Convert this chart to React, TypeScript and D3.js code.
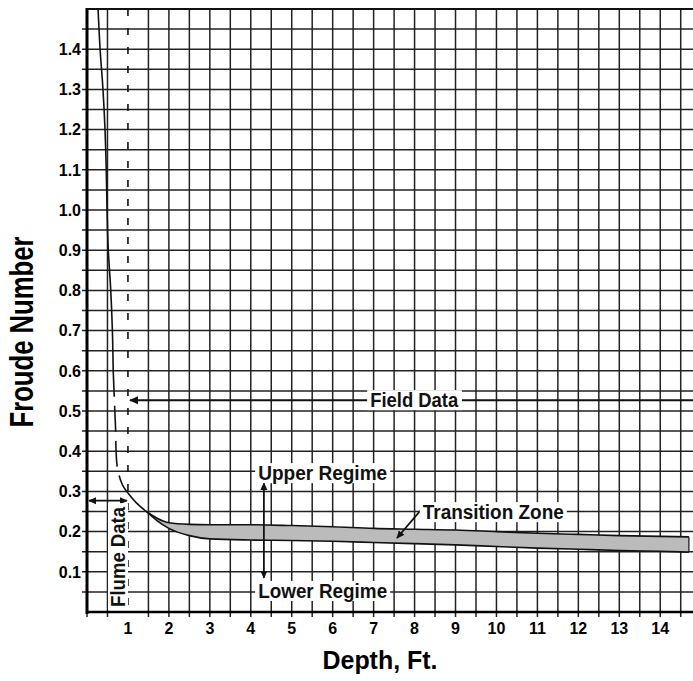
import React, { useEffect, useRef } from 'react';
import * as d3 from 'd3';

// tick labels
const xTickLabels = [1, 2, 3, 4, 5, 6, 7, 8, 9, 10, 11, 12, 13, 14];
const yTickLabels = [0.1, 0.2, 0.3, 0.4, 0.5, 0.6, 0.7, 0.8, 0.9, 1.0, 1.1, 1.2, 1.3, 1.4];

// steep flume branch (solid)
const steepDepth = [0.27, 0.32, 0.39, 0.44, 0.47, 0.49, 0.52, 0.58, 0.62, 0.64];
const steepFroude = [1.5, 1.4, 1.3, 1.2, 1.1, 1.0, 0.9, 0.8, 0.7, 0.6];

// dashed part down to depth 1
const dashedDepth = [0.64, 0.66, 0.68, 0.7, 0.71, 0.74, 0.82, 0.9, 1.0];
const dashedFroude = [0.6, 0.55, 0.5, 0.45, 0.4, 0.36, 0.328, 0.31, 0.296];

// single curve before the split
const mainDepth = [1.0, 1.2, 1.45];
const mainFroude = [0.296, 0.272, 0.25];

// transition zone band
const bandDepth = [1.45, 1.7, 2.0, 2.5, 3, 4, 5, 6, 7, 8, 9, 10, 11, 12, 13, 14, 14.7];
const upperFroude = [0.25, 0.234, 0.222, 0.218, 0.217, 0.217, 0.215, 0.212, 0.208, 0.206, 0.204, 0.2, 0.196, 0.193, 0.19, 0.188, 0.187];
const lowerFroude = [0.25, 0.228, 0.208, 0.19, 0.182, 0.179, 0.178, 0.176, 0.173, 0.17, 0.167, 0.163, 0.159, 0.156, 0.153, 0.151, 0.149];

const W = 693;
const H = 681;
const FONT = "'Liberation Sans', Arial, Helvetica, sans-serif";

const Chart = () => {
  const svgRef = useRef<SVGSVGElement>(null);

  useEffect(() => {
    const svg = d3.select(svgRef.current);
    svg.selectAll('*').remove();

    const x = d3.scaleLinear().domain([0, 14.8]).range([87, 693]);
    const y = d3.scaleLinear().domain([0, 1.5]).range([612, 9]);

    const defs = svg.append('defs');
    const mk = (id: string, size: number) => {
      defs.append('marker')
        .attr('id', id)
        .attr('viewBox', '0 0 10 10')
        .attr('refX', 9)
        .attr('refY', 5)
        .attr('markerUnits', 'userSpaceOnUse')
        .attr('markerWidth', size)
        .attr('markerHeight', size)
        .attr('orient', 'auto-start-reverse')
        .append('path')
        .attr('d', 'M0,0.5 L10,5 L0,9.5 Z')
        .attr('fill', '#111');
    };
    mk('arr', 9);
    mk('arrS', 8);

    const grid = svg.append('g').attr('stroke', '#222').attr('stroke-width', 1.5);

    // vertical grid lines every 0.5 ft (depth 1 is the dashed line)
    grid.selectAll('.vg')
      .data(d3.range(0.5, 14.8, 0.5).filter(d => Math.abs(d - 1) > 1e-6))
      .enter()
      .append('line')
      .attr('x1', d => x(d)).attr('x2', d => x(d))
      .attr('y1', y(1.5)).attr('y2', y(0) + 5);

    // horizontal grid lines every 0.05
    grid.selectAll('.hg')
      .data(d3.range(1, 30).map(i => i * 0.05))
      .enter()
      .append('line')
      .attr('x1', x(0) - 5).attr('x2', W)
      .attr('y1', d => y(d)).attr('y2', d => y(d));

    // tick at 0 on the x axis
    grid.append('line')
      .attr('x1', x(0)).attr('x2', x(0))
      .attr('y1', y(0)).attr('y2', y(0) + 5);

    // dashed line at depth 1
    svg.append('line')
      .attr('x1', x(1)).attr('x2', x(1))
      .attr('y1', y(1.5)).attr('y2', y(0) + 5)
      .attr('stroke', '#111')
      .attr('stroke-width', 1.6)
      .attr('stroke-dasharray', '7,12');

    // axes frame
    svg.append('line')
      .attr('x1', x(0)).attr('x2', x(0))
      .attr('y1', y(1.5) - 1).attr('y2', y(0) + 2)
      .attr('stroke', '#000').attr('stroke-width', 3);
    svg.append('line')
      .attr('x1', x(0) - 1).attr('x2', W)
      .attr('y1', y(0)).attr('y2', y(0))
      .attr('stroke', '#000').attr('stroke-width', 2.5);
    svg.append('line')
      .attr('x1', x(0)).attr('x2', W)
      .attr('y1', y(1.5)).attr('y2', y(1.5))
      .attr('stroke', '#111').attr('stroke-width', 2);

    // tick labels
    svg.append('g')
      .selectAll('text')
      .data(yTickLabels)
      .enter()
      .append('text')
      .attr('x', 81)
      .attr('y', d => y(d))
      .attr('dy', '0.36em')
      .attr('text-anchor', 'end')
      .attr('font-family', FONT)
      .attr('font-weight', 'bold')
      .attr('font-size', 16)
      .text(d => d3.format('.1f')(d));

    svg.append('g')
      .selectAll('text')
      .data(xTickLabels)
      .enter()
      .append('text')
      .attr('x', d => x(d))
      .attr('y', 634)
      .attr('text-anchor', 'middle')
      .attr('font-family', FONT)
      .attr('font-weight', 'bold')
      .attr('font-size', 16)
      .text(d => d);

    // transition band
    const band = bandDepth.map((d, i) => ({ d, u: upperFroude[i], l: lowerFroude[i] }));
    svg.append('path')
      .datum(band)
      .attr('d', d3.area<any>()
        .x(p => x(p.d)).y0(p => y(p.l)).y1(p => y(p.u))
        .curve(d3.curveMonotoneX))
      .attr('fill', '#bbbbbb');

    const line = d3.line<[number, number]>()
      .x(p => x(p[0])).y(p => y(p[1]))
      .curve(d3.curveCatmullRom);

    const curves = svg.append('g').attr('fill', 'none').attr('stroke', '#111').attr('stroke-width', 1.6);
    curves.append('path').attr('d', line(steepDepth.map((d, i) => [d, steepFroude[i]])));
    curves.append('path').attr('d', line(dashedDepth.map((d, i) => [d, dashedFroude[i]])))
      .attr('stroke-dasharray', '26,9');
    curves.append('path').attr('d', line(mainDepth.map((d, i) => [d, mainFroude[i]])));
    const bandLine = d3.line<[number, number]>()
      .x(p => x(p[0])).y(p => y(p[1]))
      .curve(d3.curveMonotoneX);
    curves.append('path').attr('d', bandLine(bandDepth.map((d, i) => [d, upperFroude[i]])));
    curves.append('path').attr('d', bandLine(bandDepth.map((d, i) => [d, lowerFroude[i]])));
    const last = bandDepth.length - 1;
    curves.append('line')
      .attr('x1', x(bandDepth[last])).attr('x2', x(bandDepth[last]))
      .attr('y1', y(upperFroude[last])).attr('y2', y(lowerFroude[last]))
      .attr('stroke-width', 1.2);

    // annotation helper with white box behind
    const label = (txt: string, tx: number, ty: number, opts: any = {}) => {
      const g = svg.append('g');
      const t = g.append('text')
        .attr('x', tx)
        .attr('y', ty)
        .attr('font-family', FONT)
        .attr('font-weight', 'bold')
        .attr('font-size', opts.size || 20)
        .attr('text-anchor', opts.anchor || 'start')
        .attr('fill', '#111')
        .text(txt);
      if (opts.len) t.attr('textLength', opts.len).attr('lengthAdjust', 'spacingAndGlyphs');
      if (opts.rotate) g.attr('transform', `rotate(${opts.rotate}, ${tx}, ${ty})`);
      if (opts.bg) {
        const b = (t.node() as SVGTextElement).getBBox();
        g.insert('rect', 'text')
          .attr('x', b.x - 3).attr('y', b.y + 1)
          .attr('width', b.width + 6).attr('height', b.height - 2)
          .attr('fill', '#fff');
      }
      return g;
    };

    // field data arrow
    svg.append('line')
      .attr('x1', W).attr('x2', x(1.05))
      .attr('y1', y(0.527)).attr('y2', y(0.527))
      .attr('stroke', '#111').attr('stroke-width', 2)
      .attr('marker-end', 'url(#arr)');
    label('Field Data', x(7.99), y(0.527) + 7, { anchor: 'middle', len: 88, bg: true });

    // flume data
    svg.append('line')
      .attr('x1', x(0) + 2).attr('x2', x(1) - 1)
      .attr('y1', y(0.277)).attr('y2', y(0.277))
      .attr('stroke', '#111').attr('stroke-width', 1.8)
      .attr('marker-start', 'url(#arrS)')
      .attr('marker-end', 'url(#arrS)');
    label('Flume Data', 125, y(0.137), { anchor: 'middle', len: 100, bg: true, rotate: -90 });

    // regimes
    svg.append('line')
      .attr('x1', x(4.32)).attr('x2', x(4.32))
      .attr('y1', y(0.321)).attr('y2', y(0.085))
      .attr('stroke', '#111').attr('stroke-width', 1.8)
      .attr('marker-start', 'url(#arrS)')
      .attr('marker-end', 'url(#arrS)');
    label('Upper Regime', x(4.18), y(0.328), { len: 129, bg: true });
    label('Lower Regime', x(4.18), y(0.035), { len: 129, bg: true });

    // transition zone
    svg.append('line')
      .attr('x1', x(8.2)).attr('x2', x(7.57))
      .attr('y1', y(0.259)).attr('y2', y(0.184))
      .attr('stroke', '#111').attr('stroke-width', 1.8)
      .attr('marker-end', 'url(#arrS)');
    label('Transition Zone', x(8.2), y(0.231), { len: 141, bg: true });

    // axis titles
    svg.append('text')
      .attr('transform', 'translate(33, 332) rotate(-90)')
      .attr('text-anchor', 'middle')
      .attr('font-family', FONT)
      .attr('font-weight', 'bold')
      .attr('font-size', 34)
      .attr('textLength', 191)
      .attr('lengthAdjust', 'spacingAndGlyphs')
      .text('Froude Number');

    svg.append('text')
      .attr('x', 380)
      .attr('y', 669)
      .attr('text-anchor', 'middle')
      .attr('font-family', FONT)
      .attr('font-weight', 'bold')
      .attr('font-size', 25)
      .attr('textLength', 115)
      .attr('lengthAdjust', 'spacingAndGlyphs')
      .text('Depth, Ft.');
  }, []);

  return <svg ref={svgRef} width={W} height={H} style={{ position: 'absolute', left: 0, top: 0, background: '#fff' }} />;
};

export default function App() {
  return <Chart />;
}
